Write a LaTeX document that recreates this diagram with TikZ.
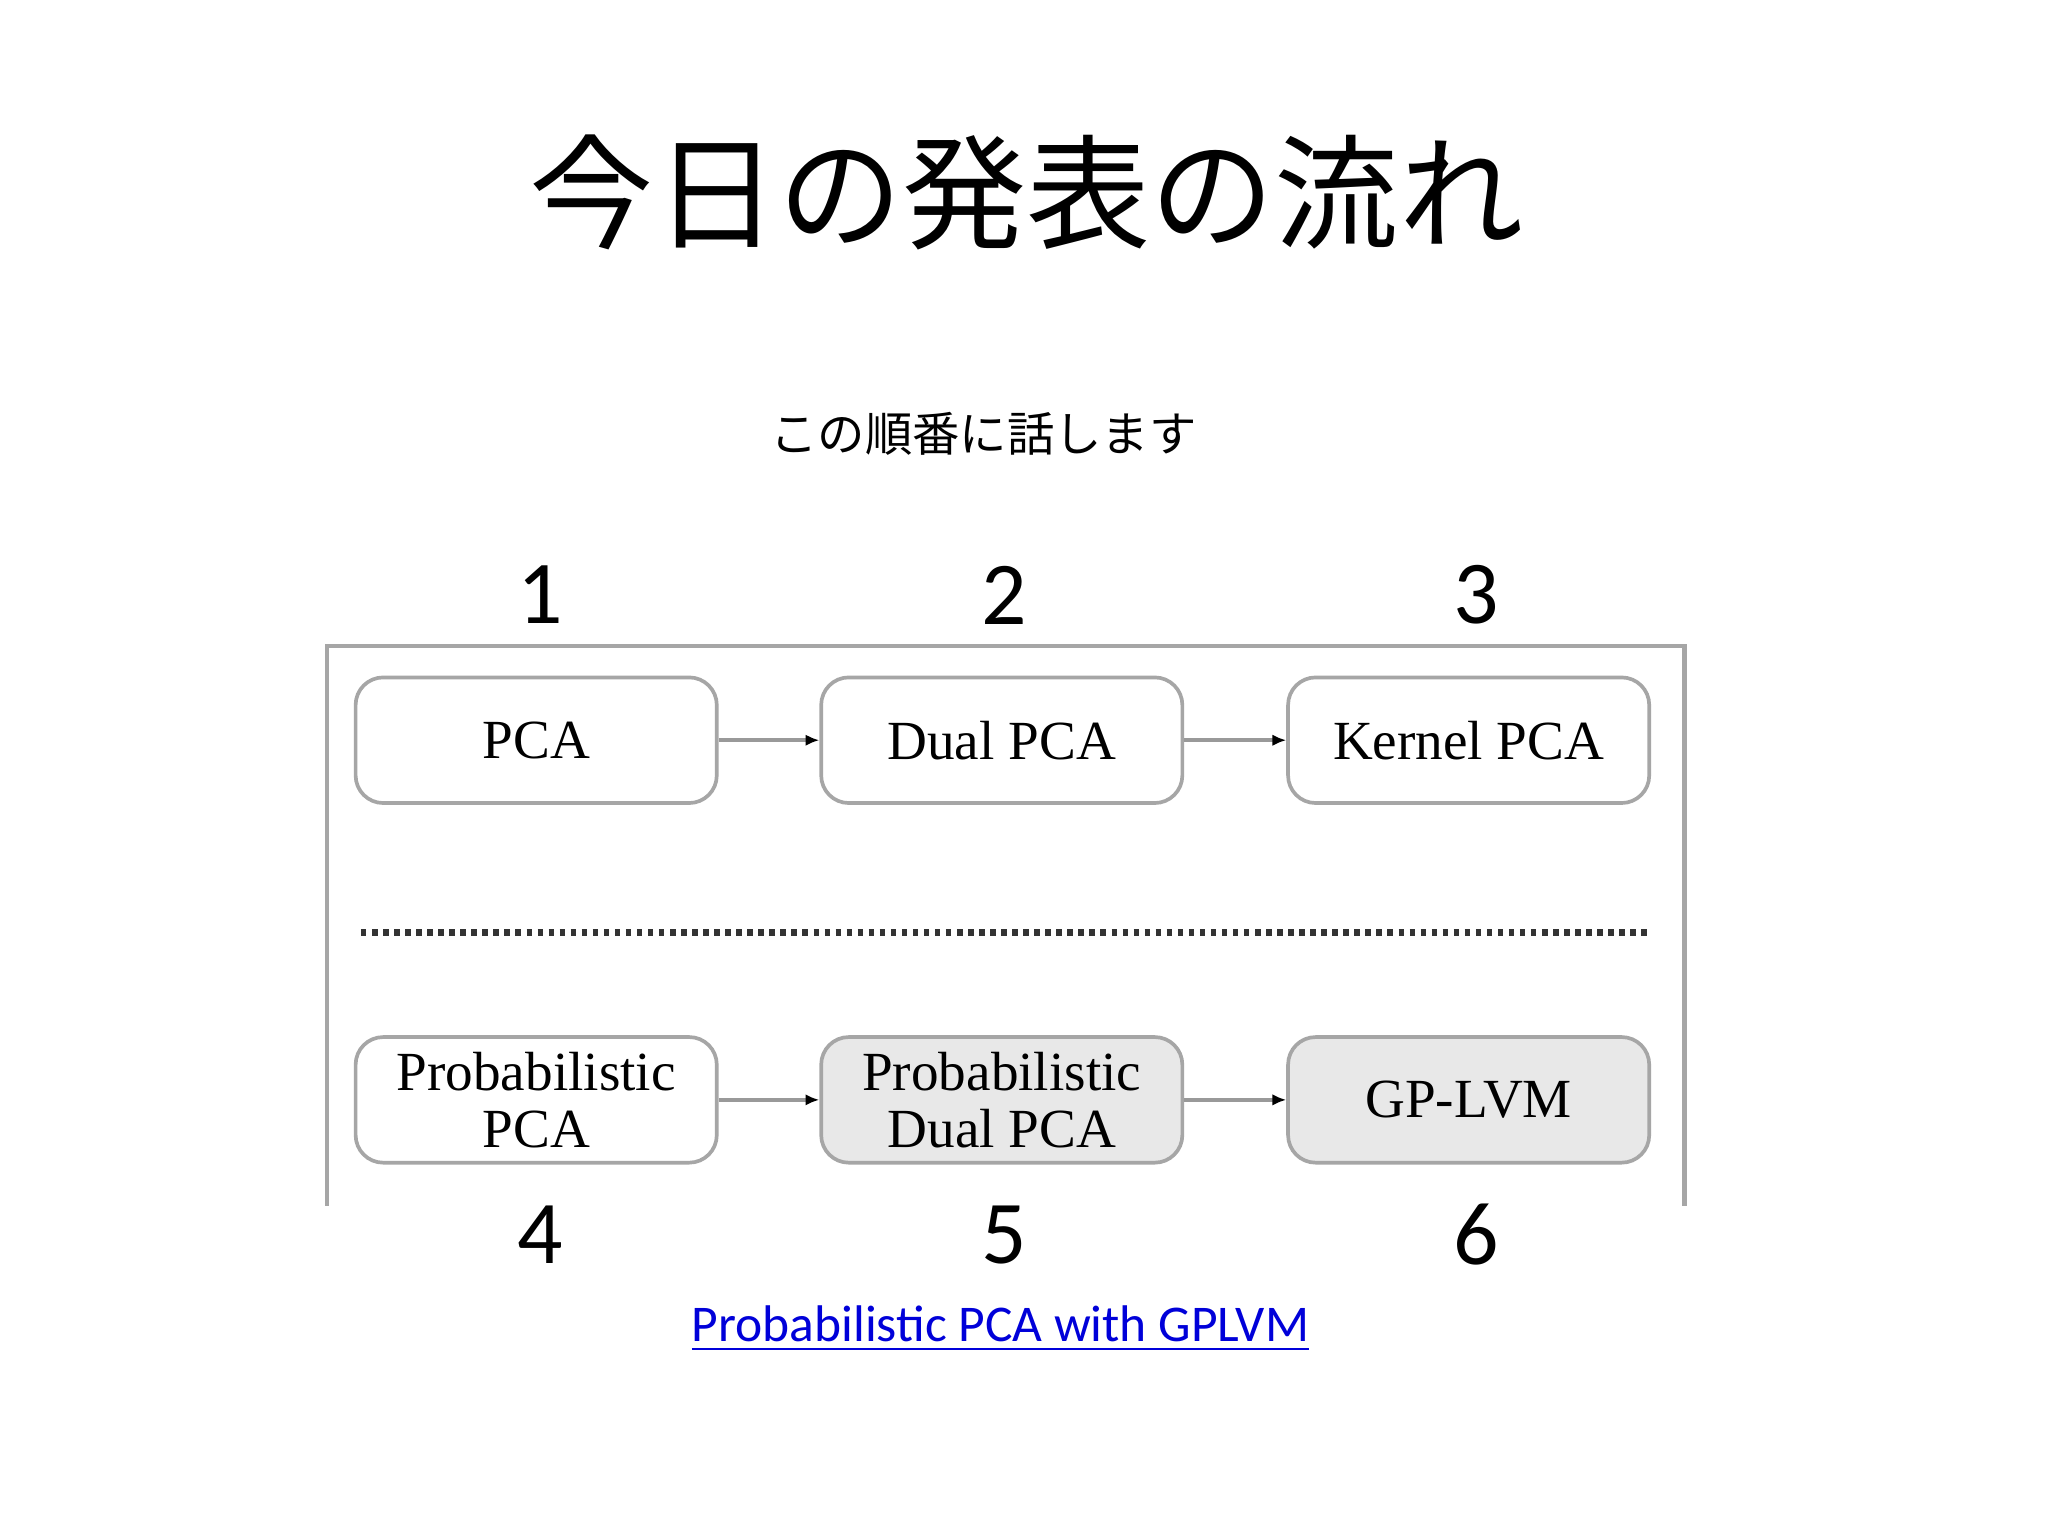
\documentclass[tikz,border=0pt]{standalone}
\usepackage{fontspec}
\setmainfont{Liberation Serif}
\newfontfamily\cjk{Noto Sans CJK JP}
\newfontfamily\carlitofont{Carlito}
\usetikzlibrary{arrows.meta}
\begin{document}
\begin{tikzpicture}[x=0.01cm,y=-0.01cm,
  box/.style={draw=gray!70,line width=0.8pt,rounded corners=6pt,fill=white,minimum width=2.76cm,minimum height=0.96cm,align=center,font=\fontsize{12}{12.5}\selectfont,inner sep=0pt},
  gbox/.style={box,fill=gray!18},
  conn/.style={draw=gray!80,line width=0.8pt,-{Latex[length=3pt,width=2.5pt,black]}},
  num/.style={font=\carlitofont\fontsize{19.5}{20}\selectfont}]
\useasboundingbox (0,0) rectangle (1566,1175);
\fill[white] (0,0) rectangle (1566,1175);
\node[font=\cjk\fontsize{27}{27}\selectfont] (title) at (785,147) {今日の発表の流れ};
\node[font=\cjk\fontsize{10.3}{11}\selectfont] (sub) at (752,332) {この順番に話します};
\draw[gray!70,line width=1pt] (250,922) -- (250,494) -- (1288,494) -- (1288,922);
\node[box] (a) at (410,566) {PCA};
\node[box] (b) at (766,566) {Dual PCA};
\node[box] (c) at (1123,566) {Kernel PCA};
\node[box] (d) at (410,841) {Probabilistic\\PCA};
\node[gbox] (e) at (766,841) {Probabilistic\\Dual PCA};
\node[gbox] (f) at (1123,841) {GP-LVM};
\draw[conn] (a) -- (b);
\draw[conn] (b) -- (c);
\draw[conn] (d) -- (e);
\draw[conn] (e) -- (f);
\coordinate (l1) at (276,713);
\coordinate (l2) at (1262,713);
\draw[line width=1.6pt,dash pattern=on 1.2pt off 1.2pt,black!80] (l1) -- (l2);
\node[num] (n1) at (413,455) {1};
\node[num] (n2) at (768,455) {2};
\node[num] (n3) at (1129,455) {3};
\node[num] (n4) at (413,944) {4};
\node[num] (n5) at (768,944) {5};
\node[num] (n6) at (1129,944) {6};
\node[font=\carlitofont\fontsize{11.2}{12}\selectfont,text=blue!85!black] (link) at (765,1016) {\underline{Probabilistic PCA with GPLVM}};
\end{tikzpicture}
\end{document}
